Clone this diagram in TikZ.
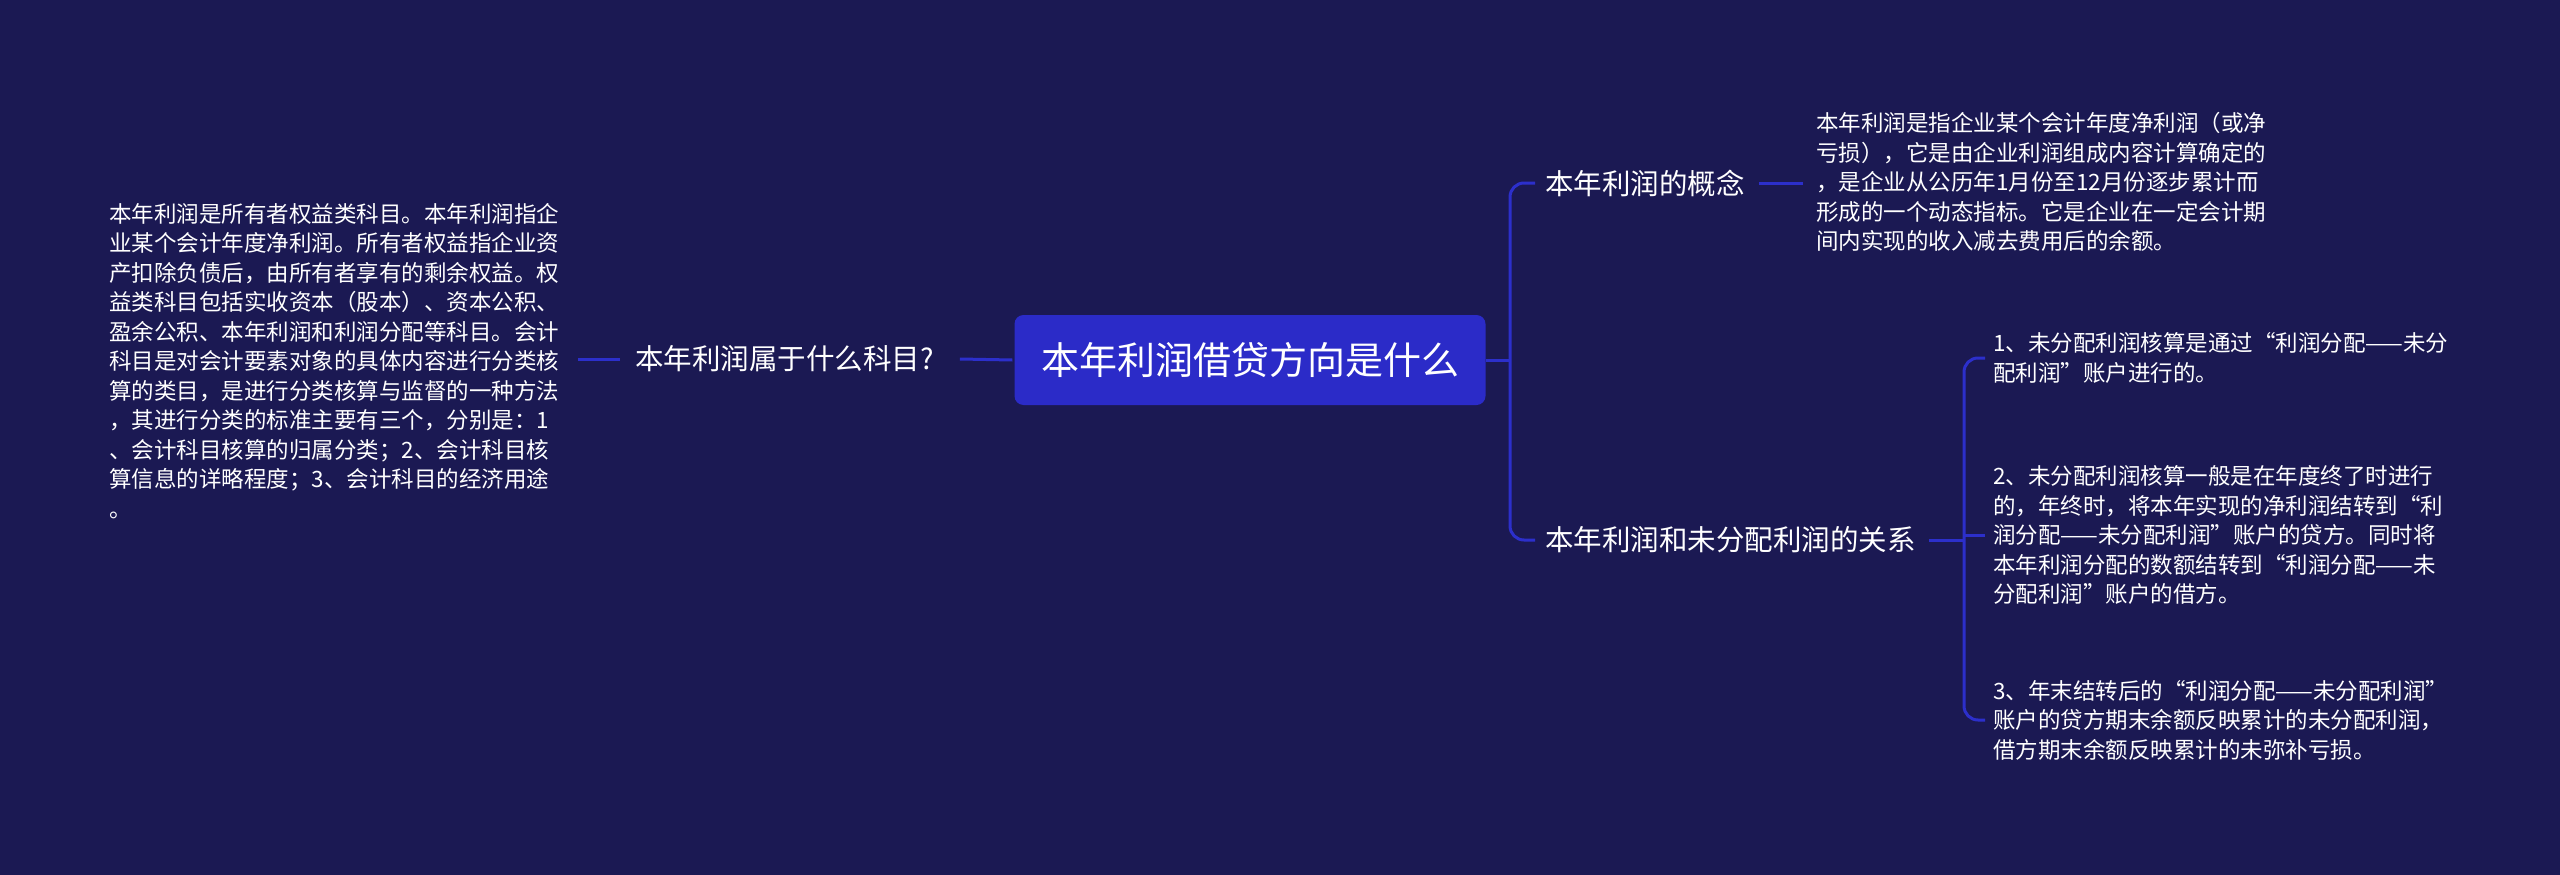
\documentclass[tikz,border=0pt]{standalone}
\usepackage{fontspec}
\newfontfamily\cjk{Noto Sans CJK SC}
\usetikzlibrary{calc}
\definecolor{bgc}{HTML}{1B1953}
\definecolor{rootc}{HTML}{2B2BC8}
\definecolor{linec}{HTML}{2C2FCB}
\begin{document}
\begin{tikzpicture}[x=1pt,y=-1pt,
  conn/.style={draw=linec,line width=3pt},
  rootbox/.style={fill=rootc,rounded corners=9pt,minimum width=471pt,minimum height=90pt,inner sep=0pt,text=white,font=\cjk\fontsize{38}{44}\selectfont},
  topic/.style={inner sep=0pt,text=white,font=\cjk\fontsize{28.5}{34}\selectfont},
  leaf/.style={inner sep=0pt,text=white,align=left,anchor=west,font=\cjk\fontsize{22.5}{29.5}\selectfont}]
\useasboundingbox[fill=bgc] (0,0) rectangle (2560,875);
% nodes
\node[rootbox] (root) at (1250,360) {本年利润借贷方向是什么};
\node[topic,anchor=west] (lq) at (635,359) {本年利润属于什么科目?};
\node[leaf] (lt) at (109,361) {本年利润是所有者权益类科目。本年利润指企\\
业某个会计年度净利润。所有者权益指企业资\\
产扣除负债后，由所有者享有的剩余权益。权\\
益类科目包括实收资本（股本）、资本公积、\\
盈余公积、本年利润和利润分配等科目。会计\\
科目是对会计要素对象的具体内容进行分类核\\
算的类目，是进行分类核算与监督的一种方法\\
，其进行分类的标准主要有三个，分别是：1\\
、会计科目核算的归属分类；2、会计科目核\\
算信息的详略程度；3、会计科目的经济用途\\
。};
\node[topic,anchor=west] (gn) at (1545,183) {本年利润的概念};
\node[topic,anchor=west] (gx) at (1545,540) {本年利润和未分配利润的关系};
\node[leaf] (ct) at (1816,182) {本年利润是指企业某个会计年度净利润（或净\\
亏损），它是由企业利润组成内容计算确定的\\
，是企业从公历年1月份至12月份逐步累计而\\
形成的一个动态指标。它是企业在一定会计期\\
间内实现的收入减去费用后的余额。};
\node[leaf] (i1) at (1993,358) {1、未分配利润核算是通过“利润分配——未分\\
配利润”账户进行的。};
\node[leaf] (i2) at (1993,535) {2、未分配利润核算一般是在年度终了时进行\\
的，年终时，将本年实现的净利润结转到“利\\
润分配——未分配利润”账户的贷方。同时将\\
本年利润分配的数额结转到“利润分配——未\\
分配利润”账户的借方。};
\node[leaf] (i3) at (1993,720) {3、年末结转后的“利润分配——未分配利润”\\
账户的贷方期末余额反映累计的未分配利润，\\
借方期末余额反映累计的未弥补亏损。};
% left connectors
\draw[conn] (root.west) ++(-2,0) -- ($(lq.east)+(26,0)$);
\draw[conn] ($(lq.west)+(-15,0)$) -- ($(lq.west)+(-57,0)$);
% right bracket 1
\coordinate (b1) at (1510,360);
\draw[conn] (root.east) -- (b1);
\draw[conn,rounded corners=14pt] ($(gn.west)+(-10,0)$) -| (b1) |- ($(gx.west)+(-10,0)$);
% concept connector
\draw[conn] ($(gn.east)+(14,0)$) -- ($(ct.west)+(-13,1)$);
% right bracket 2
\coordinate (b2) at (1964,540);
\draw[conn] ($(gx.east)+(13,0)$) -- (b2);
\draw[conn,rounded corners=14pt] ($(i1.west)+(-8,0)$) -| (b2) |- ($(i3.west)+(-8,0)$);
\draw[conn] (i2.west -| b2) -- ($(i2.west)+(-8,0)$);
\end{tikzpicture}
\end{document}
